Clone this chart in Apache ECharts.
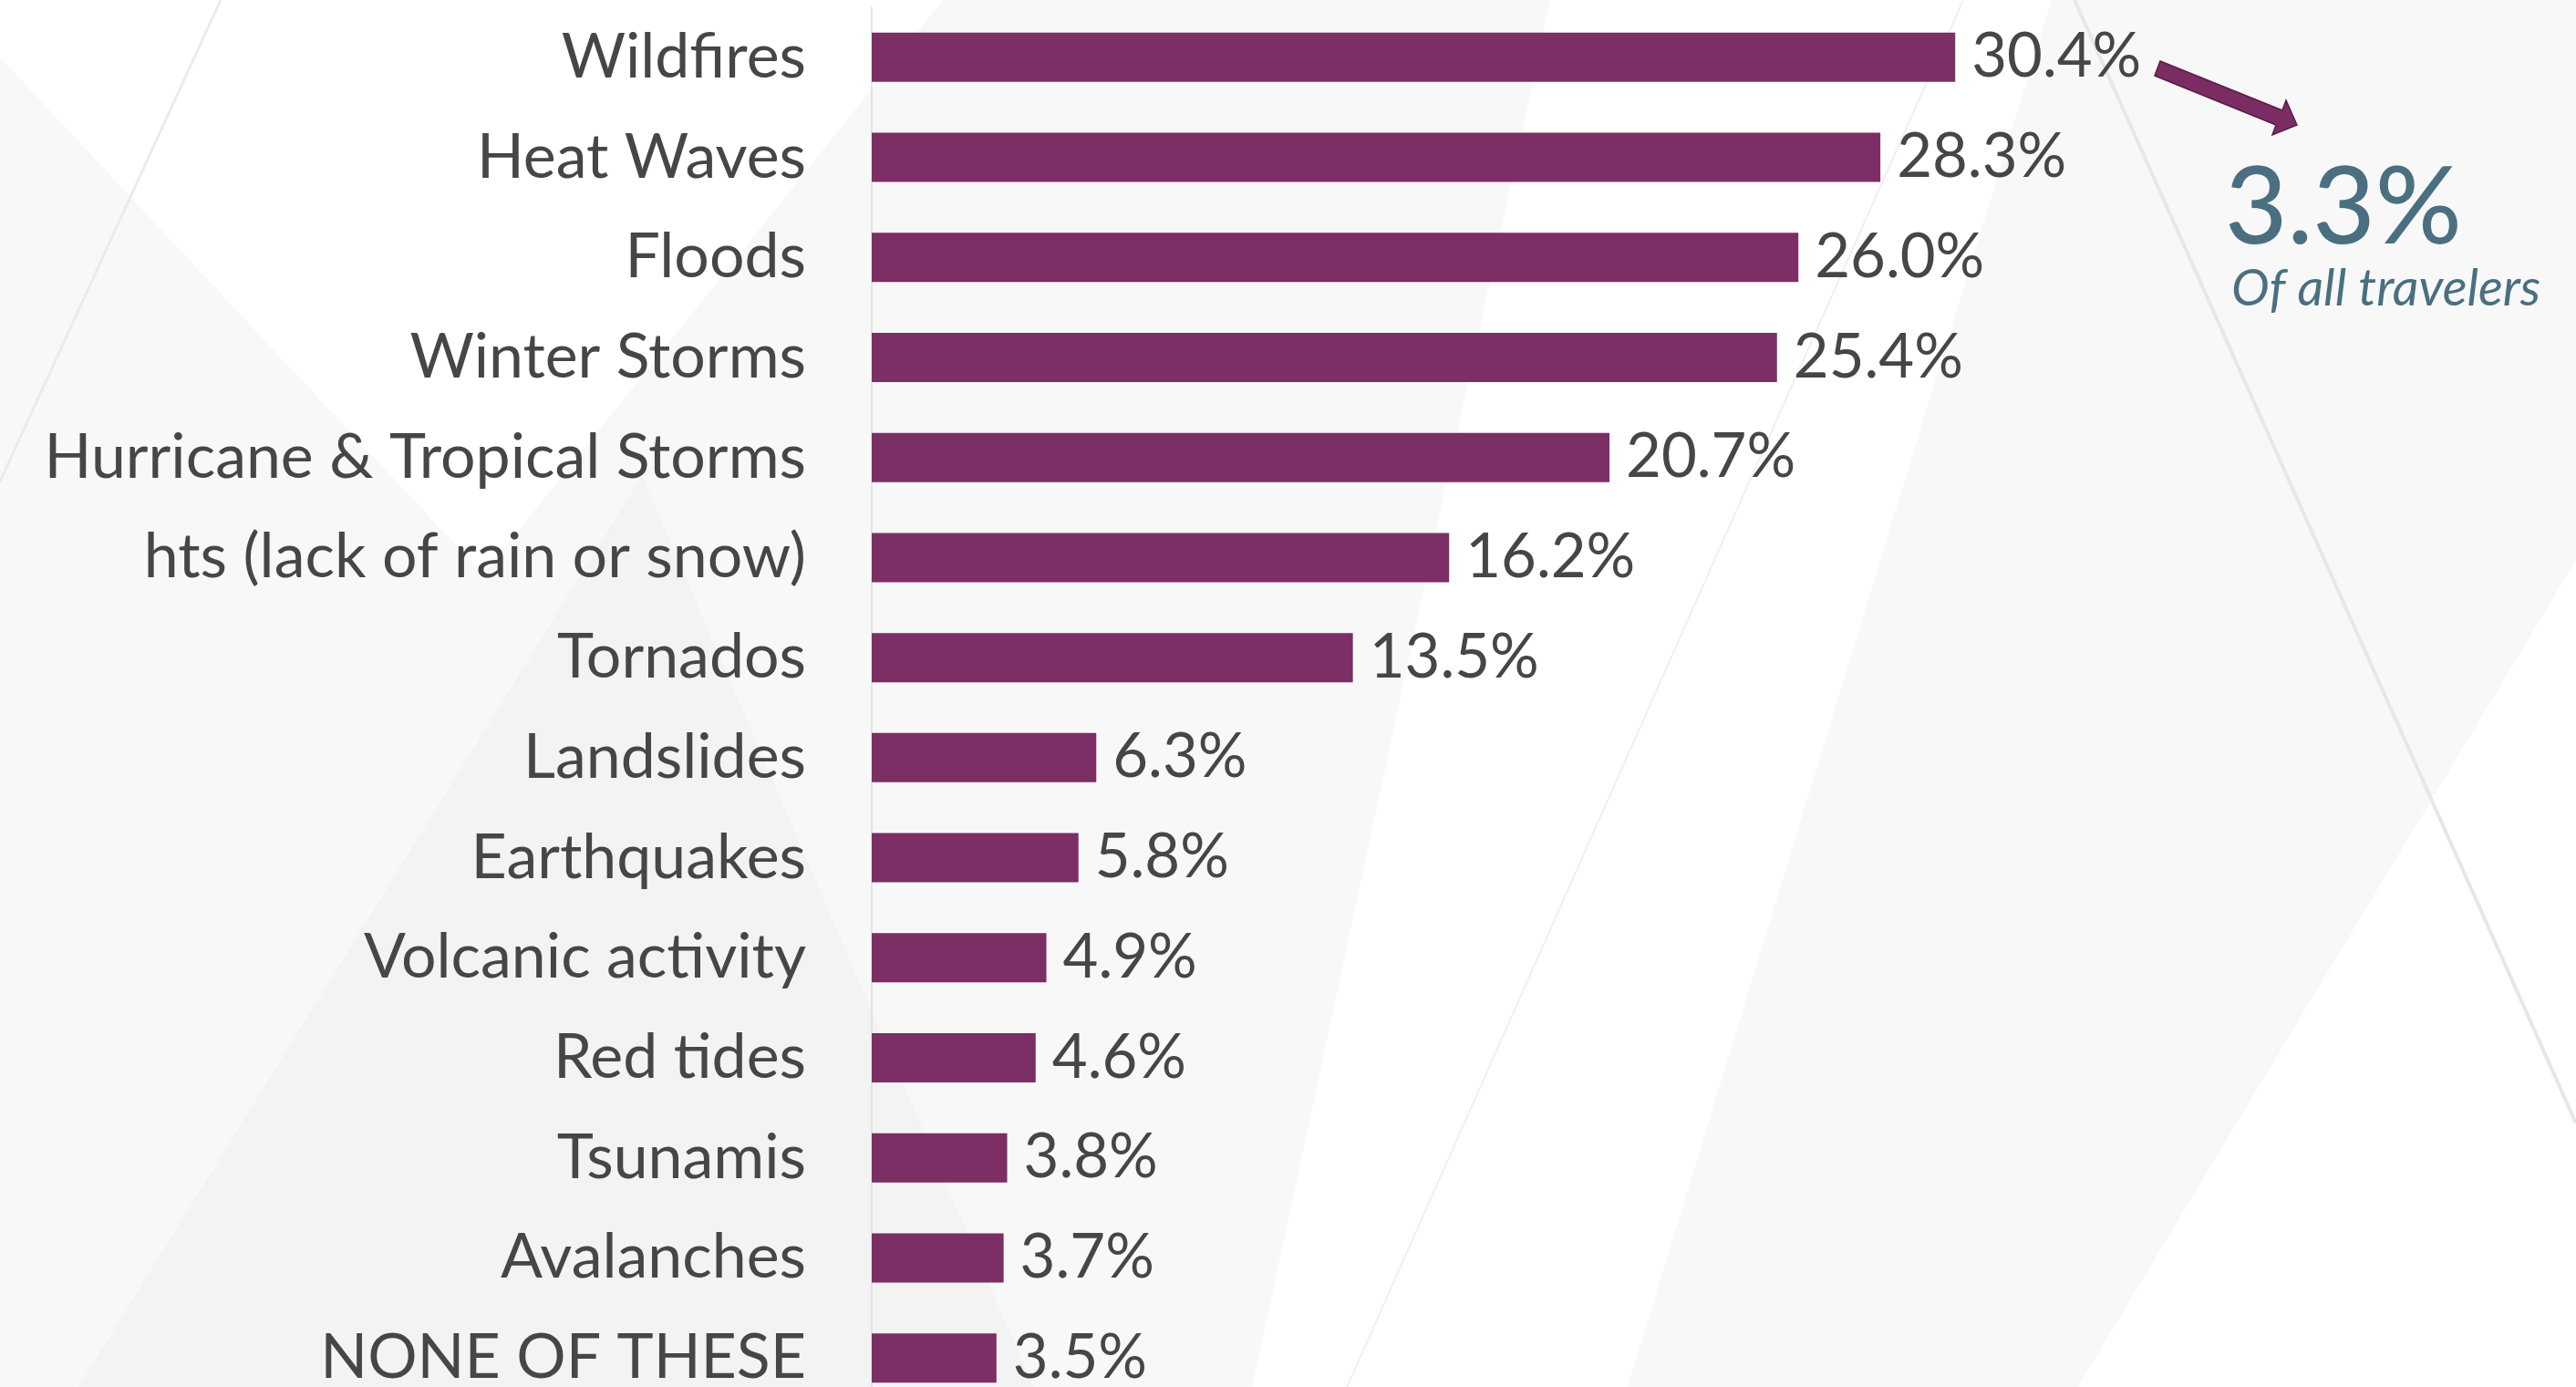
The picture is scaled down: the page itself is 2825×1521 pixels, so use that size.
<!DOCTYPE html>
<html>
<head>
<meta charset="utf-8">
<title>Weather events</title>
<script src="https://cdn.jsdelivr.net/npm/echarts@6/dist/echarts.min.js"></script>
<style>
  html, body { margin: 0; padding: 0; background: #ffffff; overflow: hidden; }
  /* the plot runs past the lower edge of the page, so the canvas is a bit taller than the view */
  #chart { width: 2825px; height: 1560px; }
</style>
</head>
<body>
<div id="chart"></div>
<script>
// Share of respondents naming each weather event (percent)
const categories = [
  'Wildfires', 'Heat Waves', 'Floods', 'Winter Storms',
  'Hurricane & Tropical Storms', 'hts (lack of rain or snow)', 'Tornados',
  'Landslides', 'Earthquakes', 'Volcanic activity', 'Red tides',
  'Tsunamis', 'Avalanches', 'NONE OF THESE'
];
const shares = [30.4, 28.3, 26.0, 25.4, 20.7, 16.2, 13.5, 6.3, 5.8, 4.9, 4.6, 3.8, 3.7, 3.5];

// Callout figure
const calloutValue = '3.3%';
const calloutText = 'Of all travelers';

const BAR = '#7b2f64';
const TEXT = '#464646';
const FONT = 'Lato, "Noto Sans", sans-serif';

const chart = echarts.init(document.getElementById('chart'), null, { renderer: 'canvas' });

// soft diagonal backdrop shapes
const backdrop = [
  { type: 'polygon', z: -20, silent: true,
    shape: { points: [[0, 63], [530, 630], [1034, 0], [1700, 0], [1365, 1560], [0, 1560]] },
    style: { fill: '#f8f8f8' } },
  { type: 'polygon', z: -19, silent: true,
    shape: { points: [[704, 522], [1150, 1560], [62, 1560]] },
    style: { fill: '#f3f3f3' } },
  { type: 'polygon', z: -20, silent: true,
    shape: { points: [[2250, 0], [2825, 0], [2825, 614], [2255, 1560], [1773, 1560]] },
    style: { fill: '#f8f8f8' } },
  { type: 'line', z: -18, silent: true,
    shape: { x1: 242, y1: 0, x2: 0, y2: 528 },
    style: { stroke: '#ebebeb', lineWidth: 3 } },
  { type: 'line', z: -18, silent: true,
    shape: { x1: 2153, y1: 0, x2: 1460, y2: 1560 },
    style: { stroke: '#f0f0f0', lineWidth: 2 } },
  { type: 'line', z: -18, silent: true,
    shape: { x1: 2275, y1: 0, x2: 2825, y2: 1232 },
    style: { stroke: '#e7e7e7', lineWidth: 4 } }
];

// arrow pointing from the top bar toward the callout
const arrow = {
  type: 'polygon', z: 20, silent: true,
  shape: { points: [
    [2369, 67], [2503, 121], [2507, 110], [2519, 137],
    [2492, 148], [2496, 137], [2363, 83]
  ] },
  style: { fill: '#7b2d63', stroke: '#5a1c48', lineWidth: 1.5 }
};

const callout = [
  { type: 'text', z: 20, silent: true,
    style: { x: 2440, y: 229, text: calloutValue, fill: '#4a6f80',
      font: '500 118px ' + FONT, align: 'left', verticalAlign: 'middle' } },
  { type: 'text', z: 20, silent: true,
    style: { x: 2447, y: 317, text: calloutText, fill: '#4a6f80',
      font: 'italic 56px ' + FONT, align: 'left', verticalAlign: 'middle' } }
];

chart.setOption({
  backgroundColor: '#ffffff',
  animation: false,
  graphic: { elements: backdrop.concat([arrow], callout) },
  grid: { left: 956, top: 8, width: 1368, height: 1536, containLabel: false },
  xAxis: {
    type: 'value', min: 0, max: 35,
    show: false
  },
  yAxis: {
    type: 'category',
    data: categories,
    inverse: true,
    axisLine: { show: true, lineStyle: { color: '#dcdcdc', width: 1.5 } },
    axisTick: { show: false },
    splitLine: { show: false },
    axisLabel: { color: TEXT, fontFamily: FONT, fontSize: 68, margin: 72 }
  },
  series: [{
    type: 'bar',
    data: shares,
    barWidth: 54,
    itemStyle: { color: BAR },
    label: {
      show: true, position: 'right', distance: 18,
      color: TEXT, fontFamily: FONT, fontSize: 67,
      formatter: p => p.value.toFixed(1) + '%'
    }
  }]
});
</script>
</body>
</html>
